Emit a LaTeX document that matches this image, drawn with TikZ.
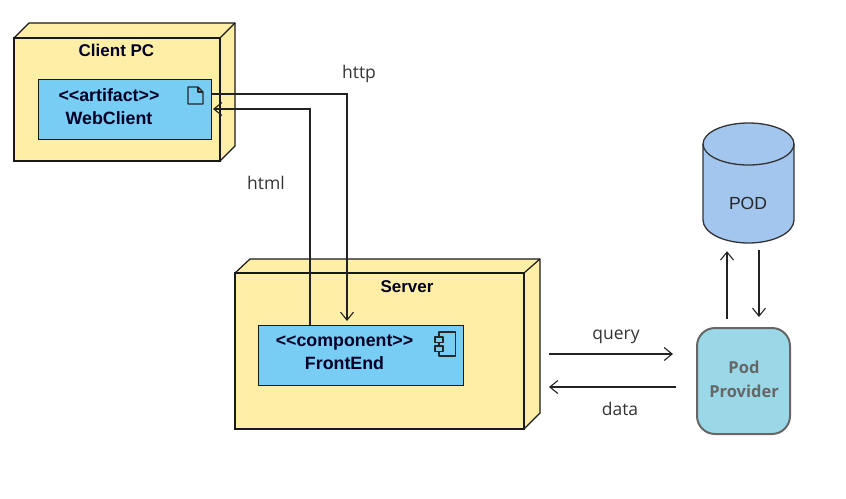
\documentclass[tikz,border=0pt]{standalone}
\usepackage{fontspec}
\setmainfont{Liberation Sans}
\newfontfamily\labelfont{Open Sans}
\usetikzlibrary{arrows.meta,shapes.geometric}
\definecolor{nodeyellow}{HTML}{FFEEA5}
\definecolor{innerblue}{HTML}{78CDF4}
\definecolor{podblue}{HTML}{A2C6EE}
\definecolor{provfill}{HTML}{9AD8E8}
\definecolor{provedge}{HTML}{666666}
\definecolor{linedark}{HTML}{222222}
\tikzset{
  front/.style={draw=black!90,fill=nodeyellow,line width=1.2pt,inner sep=0pt,outer sep=0pt},
  side/.style={draw=black!90,fill=nodeyellow,line width=1.2pt,line join=round},
  inner/.style={draw=black!90,fill=innerblue,line width=1pt,inner sep=0pt,outer sep=0pt},
  boldtxt/.style={font=\fontsize{17}{23}\selectfont\bfseries,text=black!85!blue,align=center,inner sep=0pt},
  innertxt/.style={boldtxt,font=\fontsize{17.8}{23}\selectfont\bfseries},
  edgetxt/.style={font=\labelfont\fontsize{17.5}{20}\selectfont,text=black!80,inner sep=0pt},
  conn/.style={draw=linedark,line width=1.1pt,-{Straight Barb[length=8pt,width=13pt]}},
  icon/.style={draw=black!85,fill=innerblue,line width=1.2pt,line join=round},
  cyl/.style={draw=black!80,line width=1.3pt}
}
\begin{document}
\begin{tikzpicture}[x=1pt,y=-1pt]
\useasboundingbox (0,0) rectangle (846,498);
% Client PC
\draw[side] (14,38) -- (29,23) -- (235,23) -- (235,146) -- (220,161) -- cycle;
\node[front,minimum width=206pt,minimum height=123pt] (client) at (117,99.5) {};
\draw[side] (220,38) -- (235,23);
\node[boldtxt] (clientlabel) at (116.5,50.5) {Client PC};
\node[inner,minimum width=173pt,minimum height=60pt] (artifact) at (124.5,109) {};
\node[innertxt] (artifactlabel) at (109,106.5) {<{}<artifact>{}>\\WebClient};
\draw[icon] (188,87) -- (198,87) -- (203,92) -- (203,104) -- (188,104) -- cycle;
\draw[icon,fill=none] (198,87) -- (198,92) -- (203,92);
% Server
\draw[side] (235,273) -- (250,259) -- (540,259) -- (540,413) -- (524,429) -- cycle;
\node[front,minimum width=289pt,minimum height=156pt] (server) at (379.5,351) {};
\draw[side] (524,273) -- (540,259);
\node[boldtxt] (serverlabel) at (407,286.5) {Server};
\node[inner,minimum width=205pt,minimum height=60pt] (component) at (360.5,355) {};
\node[innertxt] (componentlabel) at (344.5,352.5) {<{}<component>{}>\\FrontEnd};
\draw[icon] (439,332) -- (455.5,332) -- (455.5,356) -- (439,356) -- cycle;
\draw[icon] (435,337) rectangle (443,342.5);
\draw[icon] (435,346) rectangle (443,351.5);
% POD cylinder
\path[cyl,fill=podblue]
  (703,144) -- (703,220) .. controls (703,232.7) and (723.4,243) .. (748.5,243)
  .. controls (773.6,243) and (794,232.7) .. (794,220) -- (794,144)
  .. controls (794,132.4) and (773.6,123) .. (748.5,123)
  .. controls (723.4,123) and (703,132.4) .. (703,144) -- cycle;
\path[cyl] (703,144) .. controls (703,155.6) and (723.4,165) .. (748.5,165)
  .. controls (773.6,165) and (794,155.6) .. (794,144);
\node[inner sep=0pt,minimum width=91pt,minimum height=120pt] (pod) at (748.5,183) {};
\node[font=\fontsize{17.5}{20}\selectfont,text=black!85,inner sep=0pt] (podlabel) at (748,203) {POD};
% Pod Provider
\node[draw=provedge,fill=provfill,line width=2pt,rounded corners=18pt,minimum width=93pt,minimum height=106pt,inner sep=0pt,outer sep=0pt] (provider) at (743.5,381) {};
\node[align=center,text=provedge,inner sep=0pt,font=\labelfont\fontsize{16.5}{24}\selectfont\bfseries] (providerlabel) at (744,379) {Pod\\Provider};
% Connectors
\coordinate (httpbend) at (347,94);
\coordinate (htmlbend) at (310,109);
\coordinate (upx) at (727,0);
\coordinate (downx) at (759,0);
\coordinate (queryy) at (0,354);
\coordinate (datay) at (0,387);
\coordinate (serverout) at (549,0);
\draw[conn,shorten >=4pt] (artifact.east |- httpbend) -- (httpbend) -- (component.north -| httpbend);
\draw[conn,shorten >=2pt] (component.north -| htmlbend) -- (htmlbend) -- (artifact.east |- htmlbend);
\draw[conn] (serverout |- queryy) -- ([xshift=-24pt]provider.west |- queryy);
\draw[conn,shorten <=21pt] (provider.west |- datay) -- (serverout |- datay);
\draw[conn,shorten <=9pt,shorten >=8pt] (upx |- provider.north) -- (upx |- pod.south);
\draw[conn,shorten <=7pt,shorten >=11pt] (downx |- pod.south) -- (downx |- provider.north);
% Edge labels
\node[edgetxt] (httplabel) at (359,74) {http};
\node[edgetxt] (htmllabel) at (266,183) {html};
\node[edgetxt] (querylabel) at (616,337) {query};
\node[edgetxt] (datalabel) at (620,409) {data};
\end{tikzpicture}
\end{document}
